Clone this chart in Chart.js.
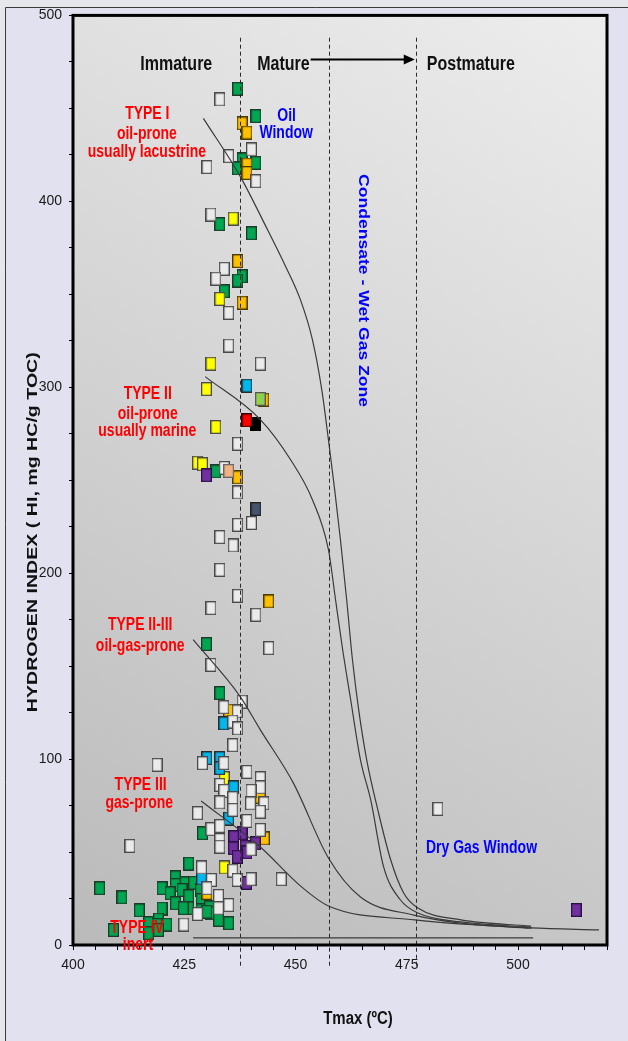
<!DOCTYPE html>
<html>
<head>
<meta charset="utf-8">
<title>Hydrogen Index vs Tmax</title>
<script src="https://cdn.jsdelivr.net/npm/chart.js@4.4.1/dist/chart.umd.min.js"></script>
<style>
  html, body { margin: 0; padding: 0; background: #e1e1ef; }
  #wrap { width: 628px; height: 1041px; }
</style>
</head>
<body>
<div id="wrap"><canvas id="hiChart" width="628" height="1041"></canvas></div>
<script>
// Axis ranges and labelled ticks
const xLabelled = [400, 425, 450, 475, 500];
const yLabelled = [0, 100, 200, 300, 400, 500];
const maturityLines = [437.5, 457.5, 477]; // Tmax of the dashed maturity boundaries

// Samples, Tmax (C) and HI (mg HC/g TOC), one pair per marker colour
const greenTmax = [437.0, 441.1, 438.0, 441.1, 436.9, 433.0, 440.1, 438.0, 437.0, 434.0, 432.1, 430.0, 433.0, 429.1, 426.0, 406.0, 411.0, 414.9, 417.0, 417.0, 409.1, 420.0, 423.0, 423.0, 425.2, 427.1, 421.8, 424.5, 428.6, 420.0, 423.0, 426.0, 426.0, 428.8, 428.8, 430.7, 424.8, 430.9, 419.2, 421.1, 418.9, 432.7, 435.0, 419.2, 430.1];
const greenHI = [460.5, 445.8, 422.5, 420.7, 417.7, 387.7, 382.8, 359.7, 357.4, 351.6, 254.7, 161.8, 135.5, 60.1, 43.8, 30.5, 25.6, 18.6, 11.7, 6.3, 8.1, 30.5, 36.4, 32.3, 33.2, 33.5, 27.8, 29.6, 29.6, 19.6, 22.4, 26.2, 19.8, 24.2, 18.6, 20.2, 19.8, 17.1, 13.7, 11.0, 10.8, 13.5, 11.7, 8.1, 17.9];

const goldTmax = [438.0, 439.1, 439.1, 439.1, 437.0, 438.0, 442.9, 437.0, 444.0, 435.0, 442.1, 443.0, 430.1];
const goldHI = [441.9, 437.0, 419.8, 415.2, 367.8, 345.5, 293.3, 251.5, 184.8, 126.1, 79.7, 57.3, 28.0];

const yellowTmax = [436.0, 433.0, 431.0, 430.0, 432.1, 428.0, 429.1, 434.0, 434.0];
const yellowHI = [390.7, 347.5, 312.7, 299.0, 278.6, 259.4, 258.6, 89.7, 41.7];

const blueTmax = [439.1, 433.9, 430.1, 433.0, 433.0, 436.1, 435.0, 428.9];
const blueHI = [300.9, 119.2, 100.5, 100.5, 95.1, 84.8, 68.0, 35.8];

const purpleTmax = [430.0, 438.0, 436.1, 441.0, 438.7, 436.0, 439.1, 436.9, 439.0, 513.1];
const purpleHI = [252.6, 60.1, 58.0, 54.7, 52.9, 52.0, 49.8, 47.5, 33.4, 18.8];

const whiteTmax = [433.0, 440.1, 435.0, 430.1, 441.1, 431.0, 434.0, 432.1, 435.0, 435.0, 442.1, 437.0, 434.0, 437.0, 440.1, 437.0, 433.0, 436.0, 433.0, 437.0, 431.0, 441.1, 444.0, 431.0, 438.0, 433.9, 436.9, 435.9, 437.0, 435.9, 418.9, 429.1, 433.9, 439.1, 442.1, 433.0, 442.1, 433.9, 440.0, 435.9, 433.0, 439.9, 442.9, 435.9, 442.1, 428.0, 439.1, 431.0, 433.0, 442.1, 433.0, 433.0, 440.0, 412.8, 428.9, 435.9, 431.1, 436.9, 440.0, 446.8, 430.1, 432.7, 432.7, 435.0, 428.0, 424.9, 482.0];
const whiteHI = [454.8, 427.9, 424.3, 418.4, 410.8, 392.9, 363.7, 358.4, 340.0, 322.4, 312.7, 269.6, 256.6, 243.4, 227.0, 226.0, 219.4, 214.9, 201.8, 187.8, 181.2, 177.6, 159.7, 150.7, 130.9, 127.9, 125.6, 120.2, 116.5, 107.5, 96.9, 97.8, 97.8, 93.1, 89.7, 86.1, 84.8, 82.9, 82.9, 79.0, 76.7, 76.2, 76.2, 72.7, 71.7, 70.9, 66.7, 62.3, 64.0, 61.9, 56.5, 52.9, 51.5, 53.3, 41.7, 40.0, 35.0, 35.0, 35.4, 35.4, 30.5, 26.4, 19.8, 21.5, 16.7, 11.0, 73.2];

// Single samples: red, black, light green, salmon, slate
const otherTmax = [439.1, 441.1, 442.1, 435.0, 441.1];
const otherHI = [282.2, 280.2, 293.7, 255.0, 234.5];

// Kerogen type boundary curves
const type1Tmax = [429.3, 437.6, 443.7, 447.7, 451.1, 453.8, 455.9, 457.4, 458.8, 460.1, 461.5, 462.8, 464.2, 466.0, 468.5, 471.4, 474.3, 477.5, 487.2, 502.9];
const type1HI = [444.6, 413.3, 384.8, 365.4, 347.1, 325.6, 298.7, 271.8, 244.9, 218.0, 185.7, 153.4, 126.5, 99.6, 72.7, 45.7, 28.0, 19.9, 13.5, 10.2];
const type2Tmax = [429.7, 442.1, 448.9, 453.8, 457.4, 459.0, 460.6, 462.4, 464.6, 466.9, 469.8, 473.6, 477.5, 487.2, 503.0];
const type2HI = [305.7, 282.6, 261.0, 239.5, 212.6, 185.7, 158.8, 131.9, 99.6, 78.0, 42.0, 24.2, 17.2, 12.4, 9.6];
const type23Tmax = [427.0, 437.6, 442.1, 449.5, 457.4, 464.6, 476.6, 487.2, 503.0];
const type23HI = [164.2, 133.5, 115.7, 87.2, 46.8, 25.8, 16.1, 11.8, 9.0];
const type3Tmax = [428.8, 442.1, 451.1, 457.4, 476.8, 502.9, 518.2];
const type3HI = [77.5, 52.7, 31.8, 21.0, 13.5, 9.2, 8.1];
const type4Tmax = [427.0, 503.4];
const type4HI = [3.8, 3.8];

const FONT = '"Liberation Sans", Arial, sans-serif';
Chart.defaults.font.family = FONT;

function toPoints(xs, ys) {
    return xs.map((x, i) => ({ x: x, y: ys[i] }));
}

// Small rectangle used as marker (the original boxes are a bit taller than wide)
function boxMarker(fill, stroke) {
    const c = document.createElement('canvas');
    c.width = 11;
    c.height = 14;
    const g = c.getContext('2d');
    g.fillStyle = fill;
    g.fillRect(0, 0, 11, 14);
    g.strokeStyle = stroke;
    g.lineWidth = 1.3;
    g.strokeRect(0.65, 0.65, 9.7, 12.7);
    return c;
}

function pointSet(label, xs, ys, fill, stroke) {
    return {
        label: label,
        data: toPoints(xs, ys),
        showLine: false,
        pointStyle: boxMarker(fill, stroke),
        pointRadius: 7
    };
}

function curveSet(label, xs, ys) {
    return {
        label: label,
        data: toPoints(xs, ys),
        showLine: true,
        pointRadius: 0,
        borderColor: '#3a3a3a',
        borderWidth: 1.2,
        cubicInterpolationMode: 'monotone',
        fill: false
    };
}

// Text with a stretch factor, the source picture is squashed horizontally
function drawText(ctx, text, x, y, size, color, rot, sx, sy) {
    ctx.save();
    ctx.translate(x, y);
    ctx.rotate(rot);
    ctx.scale(sx, sy);
    ctx.font = 'bold ' + size + 'px ' + FONT;
    ctx.fillStyle = color;
    ctx.textAlign = 'center';
    ctx.textBaseline = 'middle';
    ctx.fillText(text, 0, 0);
    ctx.restore();
}

// Text rotated and stretched to a given length
function drawLongText(ctx, text, x, y, size, color, rot, length) {
    ctx.save();
    ctx.font = 'bold ' + size + 'px ' + FONT;
    const w = ctx.measureText(text).width;
    ctx.restore();
    drawText(ctx, text, x, y, size, color, rot, length / w, 1);
}

const decorPlugin = {
    id: 'decor',
    beforeDraw(chart) {
        const { ctx, chartArea: a, width, height } = chart;
        ctx.save();
        ctx.fillStyle = '#e5e7eb';
        ctx.fillRect(0, 0, width, height);
        ctx.fillStyle = '#e1e1ef';
        ctx.fillRect(5, 7, width - 5, height - 7);
        ctx.strokeStyle = '#3a3a3a';
        ctx.lineWidth = 1;
        ctx.beginPath();
        ctx.moveTo(5.5, height);
        ctx.lineTo(5.5, 7.5);
        ctx.lineTo(width, 7.5);
        ctx.stroke();

        // grey gradient behind the plot
        const grad = ctx.createLinearGradient(a.left, a.bottom, a.right, a.top);
        grad.addColorStop(0, '#bababa');
        grad.addColorStop(1, '#ededed');
        ctx.fillStyle = grad;
        ctx.fillRect(a.left, a.top, a.right - a.left, a.bottom - a.top);
        ctx.restore();
    },
    afterDatasetsDraw(chart) {
        const { ctx, chartArea: a, scales } = chart;
        const px = v => scales.x.getPixelForValue(v);
        const py = v => scales.y.getPixelForValue(v);
        ctx.save();

        // dashed maturity boundaries
        ctx.strokeStyle = '#2a2a2a';
        ctx.lineWidth = 1;
        ctx.setLineDash([4, 3]);
        maturityLines.forEach(t => {
            const x = Math.round(px(t)) + 0.5;
            ctx.beginPath();
            ctx.moveTo(x, py(488));
            ctx.lineTo(x, a.bottom + 23);
            ctx.stroke();
        });
        ctx.setLineDash([]);

        // frame
        ctx.strokeStyle = '#000';
        ctx.lineWidth = 3;
        ctx.strokeRect(a.left, a.top, a.right - a.left, a.bottom - a.top);

        // arrow Mature -> Postmature
        const ay = py(476.3);
        const ax0 = px(453.4), ax1 = px(476.8);
        ctx.lineWidth = 2;
        ctx.beginPath();
        ctx.moveTo(ax0, ay);
        ctx.lineTo(ax1 - 9, ay);
        ctx.stroke();
        ctx.fillStyle = '#000';
        ctx.beginPath();
        ctx.moveTo(ax1, ay);
        ctx.lineTo(ax1 - 11, ay - 5);
        ctx.lineTo(ax1 - 11, ay + 5);
        ctx.closePath();
        ctx.fill();
        ctx.restore();

        const k = 1.27;
        drawText(ctx, 'Immature', px(423.2), py(473.6), 16, '#111', 0, 1, k);
        drawText(ctx, 'Mature', px(447.3), py(473.6), 16, '#111', 0, 1, k);
        drawText(ctx, 'Postmature', px(489.4), py(473.6), 16, '#111', 0, 1, k);

        const red = '#ff0000', blue = '#0000ff';
        drawText(ctx, 'TYPE I', px(416.7), py(446.7), 14, red, 0, 1, k);
        drawText(ctx, 'oil-prone', px(416.6), py(436.2), 14, red, 0, 1, k);
        drawText(ctx, 'usually lacustrine', px(416.6), py(426.6), 14, red, 0, 1, k);
        drawText(ctx, 'Oil', px(448.0), py(445.9), 14, blue, 0, 1, k);
        drawText(ctx, 'Window', px(447.9), py(436.5), 14, blue, 0, 1, k);

        drawText(ctx, 'TYPE II', px(416.8), py(296.3), 14, red, 0, 1, k);
        drawText(ctx, 'oil-prone', px(416.8), py(285.8), 14, red, 0, 1, k);
        drawText(ctx, 'usually marine', px(416.7), py(276.4), 14, red, 0, 1, k);

        drawText(ctx, 'TYPE II-III', px(415.1), py(171.9), 14, red, 0, 1, k);
        drawText(ctx, 'oil-gas-prone', px(415.1), py(160.9), 14, red, 0, 1, k);
        drawText(ctx, 'TYPE III', px(415.2), py(86.1), 14, red, 0, 1, k);
        drawText(ctx, 'gas-prone', px(414.9), py(76.4), 14, red, 0, 1, k);
        drawText(ctx, 'TYPE IV', px(414.4), py(9.1), 14, red, 0, 1, k);
        drawText(ctx, 'inert', px(414.6), py(0), 14, red, 0, 1, k);

        drawText(ctx, 'Dry Gas Window', px(491.8), py(52.2), 14, blue, 0, 1, k);
        drawLongText(ctx, 'Condensate - Wet Gas Zone', px(465.1), py(352.0), 14, blue, Math.PI / 2, 233);

        // axis titles
        drawLongText(ctx, 'HYDROGEN INDEX ( HI, mg HC/g TOC)', a.left - 40, (a.top + a.bottom) / 2 + 52, 14, '#111', -Math.PI / 2, 360);
        drawText(ctx, 'Tmax (\u00baC)', (a.left + a.right) / 2 + 18, a.bottom + 74, 15, '#111', 0, 1, 1.25);
    }
};

const chart = new Chart(document.getElementById('hiChart'), {
    type: 'scatter',
    data: {
        datasets: [
            curveSet('Type I', type1Tmax, type1HI),
            curveSet('Type II', type2Tmax, type2HI),
            curveSet('Type II-III', type23Tmax, type23HI),
            curveSet('Type III', type3Tmax, type3HI),
            curveSet('Type IV', type4Tmax, type4HI),
            pointSet('Red', otherTmax.slice(0, 1), otherHI.slice(0, 1), '#ff0000', '#3a0000'),
            pointSet('Black', otherTmax.slice(1, 2), otherHI.slice(1, 2), '#000000', '#000000'),
            pointSet('Light green', otherTmax.slice(2, 3), otherHI.slice(2, 3), '#92d050', '#555555'),
            pointSet('Salmon', otherTmax.slice(3, 4), otherHI.slice(3, 4), '#f4b183', '#666666'),
            pointSet('Slate', otherTmax.slice(4, 5), otherHI.slice(4, 5), '#44546a', '#222222'),
            pointSet('White', whiteTmax, whiteHI, '#ebebeb', '#4a4a4a'),
            pointSet('Purple', purpleTmax, purpleHI, '#7030a0', '#2a1040'),
            pointSet('Blue', blueTmax, blueHI, '#00b8f0', '#2a2a2a'),
            pointSet('Yellow', yellowTmax, yellowHI, '#ffff00', '#4a4a4a'),
            pointSet('Gold', goldTmax, goldHI, '#ffc000', '#4a3a00'),
            pointSet('Green', greenTmax, greenHI, '#00a651', '#1d3a26')
        ]
    },
    options: {
        responsive: false,
        animation: false,
        devicePixelRatio: 1,
        layout: { padding: { left: 0, top: 15, right: 21, bottom: 0 } },
        plugins: { legend: { display: false }, tooltip: { enabled: false } },
        scales: {
            x: {
                type: 'linear',
                min: 400,
                max: 520,
                afterFit: s => { s.height = 96; },
                ticks: {
                    stepSize: 5,
                    maxTicksLimit: 200,
                    autoSkip: false,
                    maxRotation: 0,
                    padding: 7,
                    color: '#1a1a1a',
                    font: { size: 14 },
                    callback: v => xLabelled.includes(v) ? String(v) : ''
                },
                grid: { drawOnChartArea: false, drawTicks: true, tickLength: 5, color: '#000', lineWidth: 1 },
                border: { display: false }
            },
            y: {
                type: 'linear',
                min: 0,
                max: 500,
                afterFit: s => { s.width = 73; },
                ticks: {
                    stepSize: 25,
                    maxTicksLimit: 200,
                    autoSkip: false,
                    padding: 7,
                    color: '#1a1a1a',
                    font: { size: 14 },
                    callback: v => yLabelled.includes(v) ? String(v) : ''
                },
                grid: { drawOnChartArea: false, drawTicks: true, tickLength: 4, color: '#000', lineWidth: 1 },
                border: { display: false }
            }
        }
    },
    plugins: [decorPlugin]
});
</script>
</body>
</html>
